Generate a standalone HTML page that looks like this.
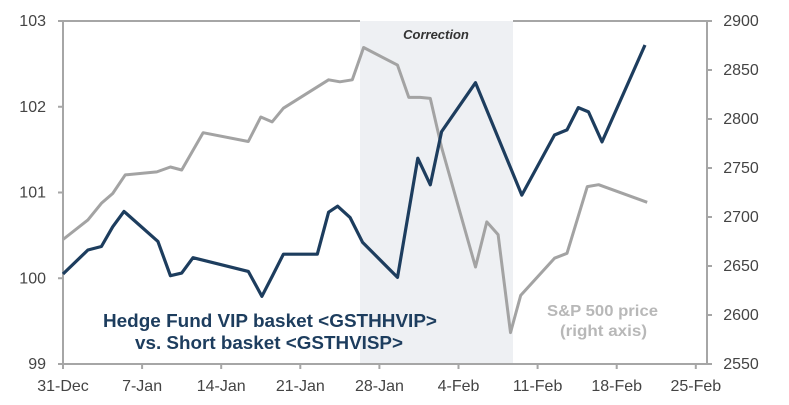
<!DOCTYPE html>
<html><head><meta charset="utf-8"><style>
html,body{margin:0;padding:0;background:#fff;}
svg{display:block;font-family:"Liberation Sans",Arial,sans-serif;}
</style></head><body>
<svg id="chart" width="789" height="405" viewBox="0 0 789 405">
<rect x="360" y="21" width="153" height="343" fill="#eef0f3"/>
<text x="436" y="39" text-anchor="middle" font-size="13" font-weight="bold" font-style="italic" fill="#333">Correction</text>
<g id="axes"></g>
<g id="series"></g>
<text x="103" y="327" font-size="18" font-weight="bold" fill="#1d3d5e" textLength="334" lengthAdjust="spacingAndGlyphs">Hedge Fund VIP basket &lt;GSTHHVIP&gt;</text>
<text x="135" y="349" font-size="18" font-weight="bold" fill="#1d3d5e" textLength="268" lengthAdjust="spacingAndGlyphs">vs. Short basket &lt;GSTHVISP&gt;</text>
<text x="547" y="316" font-size="16" font-weight="bold" fill="#b8b8b8" textLength="111" lengthAdjust="spacingAndGlyphs">S&amp;P 500 price</text>
<text x="560" y="336" font-size="16" font-weight="bold" fill="#b8b8b8" textLength="87" lengthAdjust="spacingAndGlyphs">(right axis)</text>
</svg>
<script>
const hfDays = [0,2.2,3.4,4.4,5.4,8.4,9.5,10.5,11.5,16.4,17.6,18.5,19.5,22.5,23.5,24.3,25.4,26.5,29.6,31.4,32.5,33.5,36.5,40.6,43.5,44.6,45.6,46.5,47.7,51.5];
const hfValues = [100.05,100.33,100.37,100.6,100.78,100.43,100.03,100.06,100.24,100.08,99.79,100.02,100.28,100.28,100.77,100.84,100.71,100.42,100.01,101.4,101.09,101.71,102.28,100.97,101.67,101.73,101.99,101.94,101.59,102.72];
const spDays = [0,2.2,3.4,4.4,5.5,8.3,9.5,10.5,12.4,16.4,17.5,18.5,19.5,23.5,24.5,25.6,26.6,29.6,30.6,31.6,32.5,33.5,36.5,37.5,38.5,39.6,40.5,43.5,44.6,46.4,47.4,51.7];
const spValues = [2677,2697,2714,2724,2743,2746,2751,2748,2786,2777,2802,2797,2811,2840,2838,2840,2873,2855,2822,2822,2821,2771,2649,2695,2682,2582,2620,2658,2663,2731,2733,2715];
const leftTicks = [99,100,101,102,103];
const rightTicks = [2550,2600,2650,2700,2750,2800,2850,2900];
const xTickDays = [0,7,14,21,28,35,42,49,56];
const xTickLabels = ["31-Dec","7-Jan","14-Jan","21-Jan","28-Jan","4-Feb","11-Feb","18-Feb","25-Feb"];

const L=63,R=707,T=21,B=364;
const xS=d=>L+d*11.3;
const yL=v=>B-(v-99)/4*(B-T);
const yR=v=>B-(v-2550)/350*(B-T);
const NS="http://www.w3.org/2000/svg";
function mk(tag,attrs,parent){const e=document.createElementNS(NS,tag);for(const k in attrs)e.setAttribute(k,attrs[k]);parent.appendChild(e);return e;}
const axes=document.getElementById('axes'), series=document.getElementById('series');
let e;
e=mk('line',{x1:L,y1:T,x2:360,y2:T,stroke:'#a6a6a6','stroke-width':2},axes);


e=mk('line',{x1:513,y1:T,x2:R,y2:T,stroke:'#a6a6a6','stroke-width':2},axes);


e=mk('line',{x1:L,y1:T,x2:L,y2:B,stroke:'#a6a6a6','stroke-width':2},axes);


e=mk('line',{x1:R,y1:T,x2:R,y2:B,stroke:'#a6a6a6','stroke-width':2},axes);


e=mk('line',{x1:L,y1:B,x2:R,y2:B,stroke:'#a6a6a6','stroke-width':2},axes);


leftTicks.forEach(v=>{
  const y=yL(v);
  e=mk('line',{x1:L-5,y1:y,x2:L,y2:y,stroke:'#a6a6a6','stroke-width':2},axes);
  
  
  e=mk('text',{x:L-17,y:y+5,'text-anchor':'end','font-size':16,fill:'#444'},axes);
  e.textContent=v;
  
  
});
rightTicks.forEach(v=>{
  const y=yR(v);
  e=mk('line',{x1:R,y1:y,x2:R+5,y2:y,stroke:'#a6a6a6','stroke-width':2},axes);
  
  
  e=mk('text',{x:R+34,y:y+5,'text-anchor':'middle','font-size':16,fill:'#444'},axes);
  e.textContent=v;
  
  
});
xTickDays.forEach((d,i)=>{
  const x=xS(d);
  e=mk('line',{x1:x,y1:B,x2:x,y2:B+5,stroke:'#a6a6a6','stroke-width':2},axes);
  
  
  e=mk('text',{x:x,y:391,'text-anchor':'middle','font-size':16,fill:'#444'},axes);
  e.textContent=xTickLabels[i];
  
  
});
const spPts=spDays.map((d,i)=>xS(d).toFixed(1)+','+yR(spValues[i]).toFixed(1)).join(' ');
e=mk('polyline',{points:spPts,fill:'none',stroke:'#a3a3a3','stroke-width':3,'stroke-linejoin':'round'},series);


const hfPts=hfDays.map((d,i)=>xS(d).toFixed(1)+','+yL(hfValues[i]).toFixed(1)).join(' ');
e=mk('polyline',{points:hfPts,fill:'none',stroke:'#1d3d5e','stroke-width':3.2,'stroke-linejoin':'round'},series);


</script>
</body></html>
